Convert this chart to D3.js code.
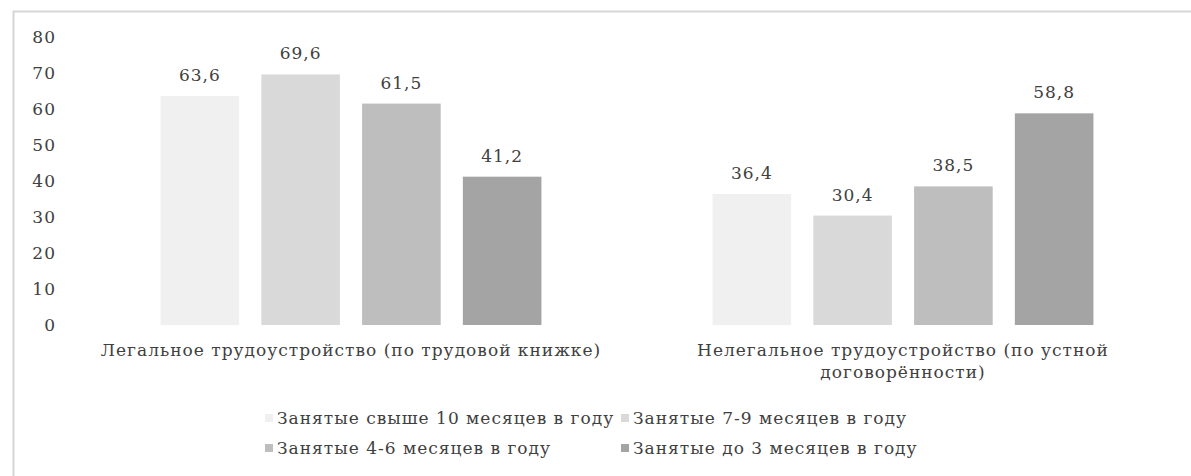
<!DOCTYPE html>
<html>
<head>
<meta charset="utf-8">
<script src="https://cdn.jsdelivr.net/npm/d3@7"></script>
<style>
  html, body { margin: 0; padding: 0; background: #fff; }
  svg { display: block; font-family: "DejaVu Serif", serif; letter-spacing: 1px; }
</style>
</head>
<body>
<svg id="fig"></svg>
<script>
// categories and series
const categories = [
    'Легальное трудоустройство (по трудовой книжке)',
    'Нелегальное трудоустройство (по устной договорённости)'
];
const seriesNames = [
    'Занятые свыше 10 месяцев в году',
    'Занятые 7-9 месяцев в году',
    'Занятые 4-6 месяцев в году',
    'Занятые до 3 месяцев в году'
];
const over10 = [63.6, 36.4];
const m7to9 = [69.6, 30.4];
const m4to6 = [61.5, 38.5];
const upTo3 = [41.2, 58.8];
const yTicks = [0, 10, 20, 30, 40, 50, 60, 70, 80];

const seriesValues = [over10, m7to9, m4to6, upTo3];
const colors = ['#f0f0f0', '#d9d9d9', '#bebebe', '#a4a4a4'];
const textColor = '#404040';
const fontSize = 17;

const width = 1191, height = 476;
const plot = { left: 75, right: 1179, top: 37, bottom: 325 };

const svg = d3.select('#fig')
    .attr('width', width)
    .attr('height', height);

// frame (only top and left edges visible)
svg.append('path')
    .attr('d', `M13.5,${height} V11.5 H${width}`)
    .attr('fill', 'none')
    .attr('stroke', '#d6d6d6')
    .attr('stroke-width', 2);

const yScale = d3.scaleLinear()
    .domain([0, 80])
    .range([plot.bottom, plot.top]);

const x0 = d3.scaleBand()
    .domain(categories)
    .range([plot.left, plot.right])
    .paddingInner(0.31)
    .paddingOuter(0.155);

const x1 = d3.scaleBand()
    .domain(d3.range(seriesNames.length))
    .range([0, x0.bandwidth()])
    .paddingInner(0.22);

const fmt = d3.formatLocale({ decimal: ',', thousands: ' ', grouping: [3], currency: ['', ''] }).format('.1f');

// y axis
const yAxis = svg.append('g')
    .attr('transform', 'translate(56,0)')
    .call(d3.axisLeft(yScale).tickValues(yTicks).tickSize(0).tickPadding(0));
yAxis.select('.domain').remove();
yAxis.selectAll('text')
    .attr('font-family', '"DejaVu Serif", serif')
    .attr('font-size', fontSize)
    .attr('fill', textColor);

// bars
const groups = svg.selectAll('g.cat')
    .data(categories)
    .enter().append('g')
    .attr('class', 'cat')
    .attr('transform', d => `translate(${x0(d)},0)`);

groups.each(function (cat, ci) {
    const g = d3.select(this);
    const rows = seriesValues.map((vals, si) => ({ si, v: vals[ci] }));
    g.selectAll('rect').data(rows)
        .enter().append('rect')
        .attr('x', d => x1(d.si))
        .attr('y', d => yScale(d.v))
        .attr('width', x1.bandwidth())
        .attr('height', d => yScale(0) - yScale(d.v))
        .attr('fill', d => colors[d.si]);
    g.selectAll('text.val').data(rows)
        .enter().append('text')
        .attr('class', 'val')
        .attr('x', d => x1(d.si) + x1.bandwidth() / 2)
        .attr('y', d => yScale(d.v) - 15)
        .attr('text-anchor', 'middle')
        .attr('font-size', fontSize)
        .attr('fill', textColor)
        .text(d => fmt(d.v));
});

// category labels (wrapped)
const catLines = [
    ['Легальное трудоустройство (по трудовой книжке)'],
    ['Нелегальное трудоустройство (по устной', 'договорённости)']
];
categories.forEach((cat, ci) => {
    const t = svg.append('text')
        .attr('x', x0(cat) + x0.bandwidth() / 2)
        .attr('y', 356)
        .attr('text-anchor', 'middle')
        .attr('font-size', fontSize)
        .attr('fill', textColor);
    catLines[ci].forEach((line, li) => {
        t.append('tspan')
            .attr('x', x0(cat) + x0.bandwidth() / 2)
            .attr('dy', li === 0 ? 0 : 22)
            .text(line);
    });
});

// legend, two columns
const legendCols = [277, 633];
const legendRows = [424, 454];
const legend = svg.selectAll('g.leg')
    .data(seriesNames)
    .enter().append('g')
    .attr('class', 'leg')
    .attr('transform', (d, i) => `translate(${legendCols[i % 2]},${legendRows[Math.floor(i / 2)]})`);
legend.append('rect')
    .attr('x', -12)
    .attr('y', -10)
    .attr('width', 8)
    .attr('height', 8)
    .attr('fill', (d, i) => colors[i]);
legend.append('text')
    .attr('font-size', fontSize)
    .attr('fill', textColor)
    .text(d => d);
</script>
</body>
</html>
